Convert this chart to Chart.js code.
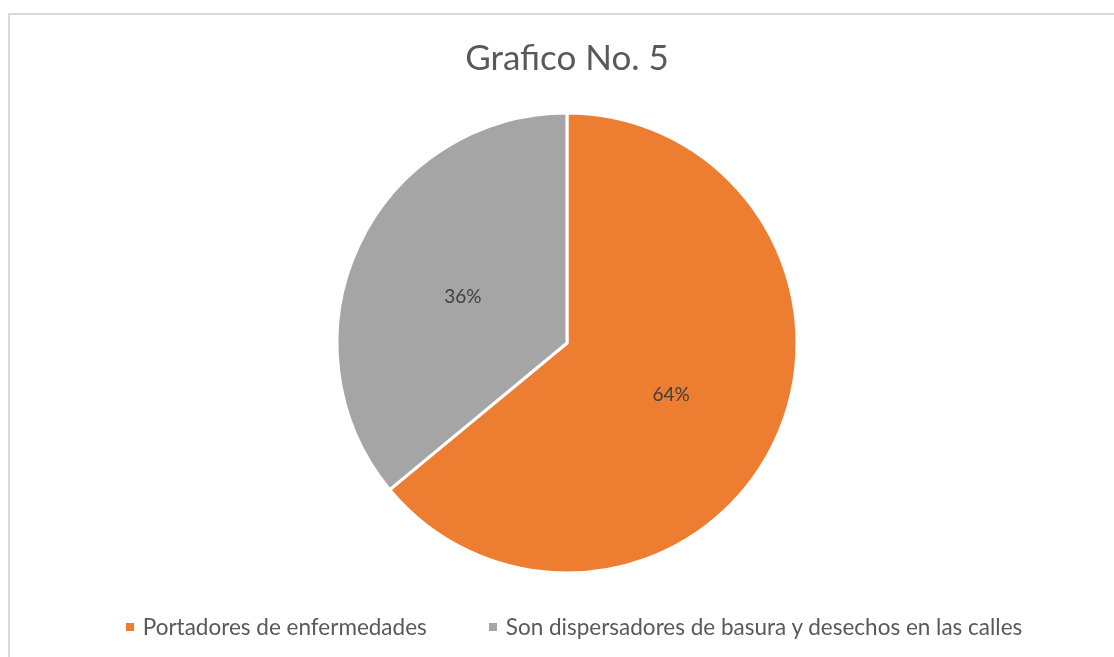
<!DOCTYPE html>
<html>
<head>
<meta charset="utf-8">
<script src="https://cdn.jsdelivr.net/npm/chart.js@4.4.1/dist/chart.umd.min.js"></script>
<style>
  html, body { margin: 0; padding: 0; background: #fff; }
  #wrap { position: relative; width: 1114px; height: 657px; overflow: hidden; }
  #frame {
    position: absolute; left: 8px; top: 13px; width: 1200px; height: 700px;
    border-left: 2px solid #d9d9d9; border-top: 2px solid #d9d9d9;
  }
  #chart-box { position: absolute; left: 0; top: 0; width: 1114px; height: 657px; }
  #legend {
    position: absolute; left: 34px; right: 0; top: 613px;
    display: flex; justify-content: center; gap: 62px;
    font-family: Lato, "Noto Sans", sans-serif; font-size: 22.5px; color: #595959;
  }
  #legend .item { display: flex; align-items: center; }
  #legend .box { width: 8px; height: 8px; margin-right: 9px; }
</style>
</head>
<body>
<div id="wrap">
  <div id="frame"></div>
  <div id="chart-box"><canvas id="pieChart"></canvas></div>
  <div id="legend"></div>
</div>
<script>
const labels = ['Portadores de enfermedades', 'Son dispersadores de basura y desechos en las calles'];
const values = [64, 36];
const colors = ['#ED7D31', '#A5A5A5'];

// Percent labels inside the slices
const sliceLabels = {
  id: 'sliceLabels',
  afterDatasetsDraw(chart) {
    const ctx = chart.ctx;
    const meta = chart.getDatasetMeta(0);
    const sum = values.reduce((a, b) => a + b, 0);
    ctx.save();
    ctx.font = '19px Lato, "Noto Sans", sans-serif';
    ctx.fillStyle = '#404040';
    ctx.textAlign = 'center';
    ctx.textBaseline = 'middle';
    meta.data.forEach((arc, i) => {
      const pos = arc.tooltipPosition();
      ctx.fillText(Math.round(values[i] / sum * 100) + '%', pos.x, pos.y + 3);
    });
    ctx.restore();
  }
};

const ctx = document.getElementById('pieChart').getContext('2d');
const pieChart = new Chart(ctx, {
  type: 'pie',
  data: {
    labels: labels,
    datasets: [{
      data: values,
      backgroundColor: colors,
      borderColor: '#ffffff',
      borderWidth: 3,
      radius: 230
    }]
  },
  options: {
    responsive: true,
    maintainAspectRatio: false,
    animation: false,
    layout: { padding: { top: 10, left: 20, right: 0, bottom: 51 } },
    plugins: {
      legend: { display: false },
      tooltip: { enabled: false },
      title: {
        display: true,
        text: 'Grafico No. 5',
        color: '#595959',
        font: { family: 'Lato, "Noto Sans", sans-serif', size: 35, weight: 'normal' },
        padding: { top: 28, bottom: 0 }
      }
    }
  },
  plugins: [sliceLabels]
});

// HTML legend
const legendEl = document.getElementById('legend');
labels.forEach((name, i) => {
  const item = document.createElement('div');
  item.className = 'item';
  item.innerHTML = `<span class="box" style="background:${colors[i]}"></span><span>${name}</span>`;
  legendEl.appendChild(item);
});
</script>
</body>
</html>
